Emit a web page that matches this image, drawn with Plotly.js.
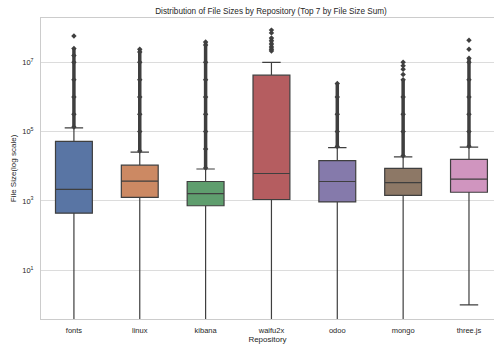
<!DOCTYPE html>
<html><head>
<script src="https://cdn.plot.ly/plotly-3.0.1.min.js"></script>
<style>body{margin:0;background:#fff}</style>
</head><body>
<div id="chart" style="width:494px;height:344px"></div>
<script>
const repos = ['fonts','linux','kibana','waifu2x','odoo','mongo','three.js'];
const colors = ['#5975a4','#cc8963','#5f9e6e','#b55d60','#857aab','#8d7866','#d095bf'];
// box statistics, as log10(file size in bytes)
const q1Log     = [2.645, 3.10, 2.86, 3.04, 2.97, 3.16, 3.25];
const medianLog = [3.33, 3.57, 3.21, 3.79, 3.56, 3.53, 3.63];
const q3Log     = [4.72, 4.03, 3.56, 6.63, 4.16, 3.94, 4.20];
const lowerLog  = [-2, -2, -2, -2, -2, -2, 0];
const upperLog  = [5.11, 4.41, 3.92, 7.00, 4.54, 4.27, 4.55];
// outliers, log10(size); null separates isolated points
const fontsOut   = [5.13, 5.5, 6.0, 6.5, 7.0, 7.2, 7.40, null, 7.76];
const linuxOut   = [4.44, 5.0, 5.5, 6.0, 6.5, 7.0, 7.3, 7.38];
const kibanaOut  = [3.95, 4.5, 5.0, 5.5, 6.0, 6.5, 7.0, 7.5, 7.59];
const waifuOut   = [7.33, 7.38, 7.44, 7.53, 7.62, 7.70, null, 7.85, null, 7.93];
const odooOut    = [4.57, 5.0, 5.5, 6.0, 6.39];
const mongoOut   = [4.30, 5.0, 5.5, 6.0, 6.5, null, 6.65, null, 6.8, null, 6.9, null, 7.0];
const threeOut   = [4.58, 5.0, 5.5, 6.0, 6.5, 7.0, 7.12, null, 7.38, null, 7.64];
const outliers = [fontsOut, linuxOut, kibanaOut, waifuOut, odooOut, mongoOut, threeOut];

const pw = v => v === null ? null : Math.pow(10, v);
const edge = '#3f3f3f';
const traces = [];
repos.forEach((r, i) => {
  traces.push({
    type: 'box', x: [r],
    q1: [pw(q1Log[i])], median: [pw(medianLog[i])], q3: [pw(q3Log[i])],
    lowerfence: [pw(lowerLog[i])], upperfence: [pw(upperLog[i])],
    fillcolor: colors[i], line: {color: edge, width: 1.2},
    boxpoints: false, whiskerwidth: 0.5, hoverinfo: 'skip', showlegend: false
  });
});
repos.forEach((r, i) => {
  traces.push({
    type: 'scatter', mode: 'lines+markers',
    x: outliers[i].map(() => r), y: outliers[i].map(pw),
    line: {color: edge, width: 3.5}, connectgaps: false,
    marker: {symbol: 'diamond', size: 4.2, color: edge},
    hoverinfo: 'skip', showlegend: false
  });
});

const font = 'Liberation Sans, Arial, sans-serif';
const layout = {
  width: 494, height: 344,
  margin: {l: 41, r: 0, t: 18, b: 25},
  paper_bgcolor: '#fff', plot_bgcolor: '#fff',
  boxmode: 'overlay', boxgap: 0.2,
  font: {family: font, size: 7.5, color: '#262626'},
  title: {text: 'Distribution of File Sizes by Repository (Top 7 by File Size Sum)',
          font: {size: 8.2, color: '#262626'}, xref: 'container', x: 271/494,
          y: 1 - 11/344, yanchor: 'middle', xanchor: 'center'},
  xaxis: {type: 'category', categoryarray: repos, range: [-0.5, 6.38],
          showgrid: false, showline: true, linecolor: '#cccccc', linewidth: 1, mirror: true,
          ticks: '', tickfont: {size: 7.5, color: '#262626'}, ticklabelstandoff: 4, automargin: false,
          title: {text: 'Repository', font: {size: 8, color: '#262626'}, standoff: 2}},
  yaxis: {type: 'log', range: [-0.41, 8.28],
          tickvals: [10, 1e3, 1e5, 1e7],
          ticktext: ['10<sup>1</sup>', '10<sup>3</sup>', '10<sup>5</sup>', '10<sup>7</sup>'],
          showgrid: true, gridcolor: '#dcdcdc', gridwidth: 1, zeroline: false,
          showline: true, linecolor: '#cccccc', linewidth: 1, mirror: true,
          ticks: '', tickfont: {size: 7.5, color: '#262626'}, ticklabelstandoff: 5, automargin: false,
          title: {text: 'File Size(log scale)', font: {size: 8, color: '#262626'}, standoff: 4}}
};
Plotly.newPlot('chart', traces, layout, {displayModeBar: false, staticPlot: true});
</script>
</body></html>
